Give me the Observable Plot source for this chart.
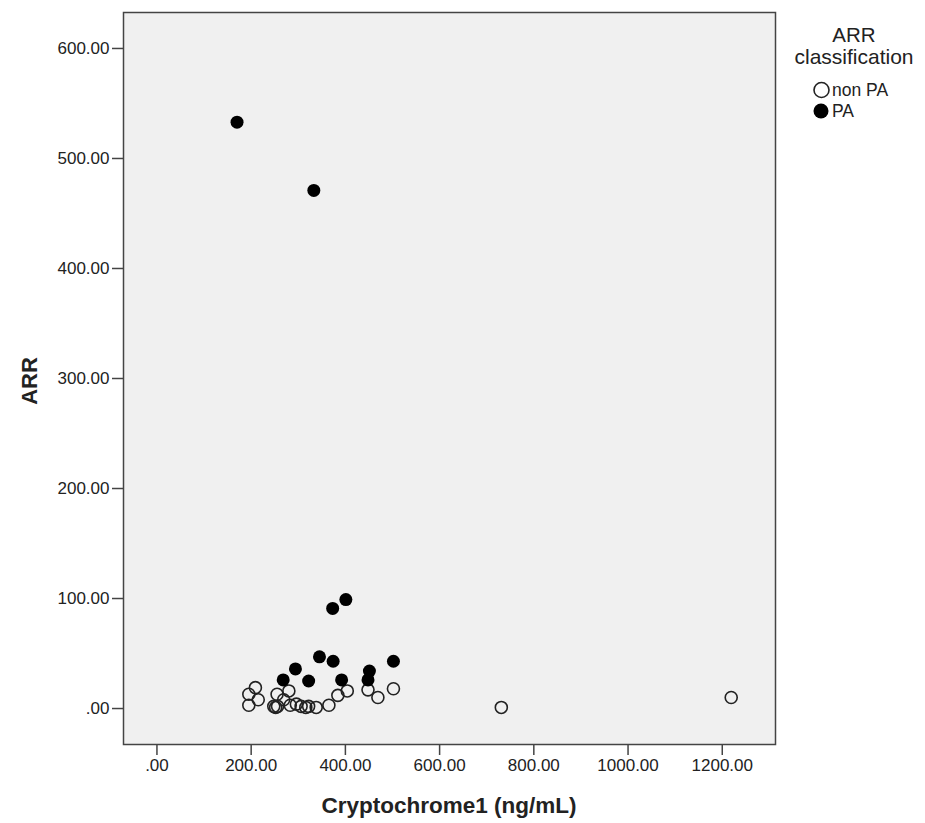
<!DOCTYPE html>
<html>
<head>
<meta charset="utf-8">
<script src="https://cdn.jsdelivr.net/npm/d3@7"></script>
<script src="https://cdn.jsdelivr.net/npm/@observablehq/plot@0.6"></script>
<style>
  body { margin: 0; background: #fff; }
  #wrap { position: relative; width: 925px; height: 823px; }
  #legend { position: absolute; left: 780px; top: 0; }
</style>
</head>
<body>
<div id="wrap"></div>
<script>
// ---- data ----
const paX = [170, 333, 401, 373, 345, 374, 294, 268, 322, 392, 451, 448, 502];
const paY = [533, 471, 99, 91, 47, 43, 36, 26, 25, 26, 34, 26, 43];

const nonX = [209, 195, 215, 195, 280, 255, 269, 248, 252, 256, 283, 296, 306, 316, 322, 338, 365, 384, 404, 448, 469, 502, 731, 1219];
const nonY = [19, 13, 8, 3, 16, 13, 8, 2, 1, 2, 3, 4, 2, 1, 2, 1, 3, 12, 16, 17, 10, 18, 1, 10];

const xTicks = [0, 200, 400, 600, 800, 1000, 1200];
const yTicks = [0, 100, 200, 300, 400, 500, 600];

const classes = ["non PA", "PA"];
const legendTitle = ["ARR", "classification"];
const xTitle = "Cryptochrome1 (ng/mL)";
const yTitle = "ARR";

const rows = [
  ...nonX.map((x, i) => ({x, y: nonY[i], cls: classes[0]})),
  ...paX.map((x, i) => ({x, y: paY[i], cls: classes[1]}))
];

const fmt = v => d3.format(".2f")(v).replace(/^0\./, ".");

const W = 925, H = 823;
const mL = 123, mR = 150, mT = 12, mB = 79;

const chart = Plot.plot({
  width: W,
  height: H,
  marginLeft: mL,
  marginRight: mR,
  marginTop: mT,
  marginBottom: mB,
  style: {fontFamily: "Liberation Sans, Arial, sans-serif", fontSize: "17px", color: "#222", background: "#fff"},
  x: {domain: [-71, 1313]},
  y: {domain: [-32.7, 632.7]},
  marks: [
    Plot.frame({fill: "#f0f0f0", stroke: null}),
    Plot.axisX({ticks: xTicks, tickFormat: fmt, tickSize: 11, tickPadding: 3, stroke: "#444", strokeWidth: 1.5, label: null, fill: "#222", fontSize: 17}),
    Plot.axisY({ticks: yTicks, tickFormat: fmt, tickSize: 11, tickPadding: 3, stroke: "#444", strokeWidth: 1.5, label: null, fill: "#222", fontSize: 17}),
    Plot.dot(rows.filter(d => d.cls === classes[0]), {x: "x", y: "y", r: 6, stroke: "#222", strokeWidth: 1.6, fill: "none"}),
    Plot.dot(rows.filter(d => d.cls === classes[1]), {x: "x", y: "y", r: 6.5, fill: "#000", stroke: "none"}),
    Plot.frame({stroke: "#444", strokeWidth: 1.5})
  ]
});

const svg = d3.select(chart);
svg.append("text")
  .attr("x", (mL + (W - mR)) / 2)
  .attr("y", 813)
  .attr("text-anchor", "middle")
  .attr("font-weight", "bold")
  .attr("font-size", 22.5)
  .attr("fill", "#222")
  .text(xTitle);
svg.append("text")
  .attr("transform", `translate(37,${(mT + (H - mB)) / 2 + 3}) rotate(-90)`)
  .attr("text-anchor", "middle")
  .attr("font-weight", "bold")
  .attr("font-size", 22)
  .attr("fill", "#222")
  .text(yTitle);

const wrap = document.getElementById("wrap");
wrap.appendChild(chart);

// legend
const lg = d3.create("svg").attr("id", "legend").attr("width", 145).attr("height", 130)
  .style("font-family", "Liberation Sans, Arial, sans-serif");
lg.append("text").attr("x", 74).attr("y", 42).attr("text-anchor", "middle").attr("font-size", 20.5).attr("fill", "#222").text(legendTitle[0]);
lg.append("text").attr("x", 74).attr("y", 64).attr("text-anchor", "middle").attr("font-size", 21).attr("fill", "#222").text(legendTitle[1]);
lg.append("circle").attr("cx", 41.5).attr("cy", 90).attr("r", 7.5).attr("fill", "none").attr("stroke", "#222").attr("stroke-width", 1.6);
lg.append("text").attr("x", 52).attr("y", 96).attr("font-size", 17.5).attr("fill", "#222").text(classes[0]);
lg.append("circle").attr("cx", 41).attr("cy", 111).attr("r", 7.5).attr("fill", "#000");
lg.append("text").attr("x", 52).attr("y", 117).attr("font-size", 17.5).attr("fill", "#222").text(classes[1]);
wrap.appendChild(lg.node());
</script>
</body>
</html>
